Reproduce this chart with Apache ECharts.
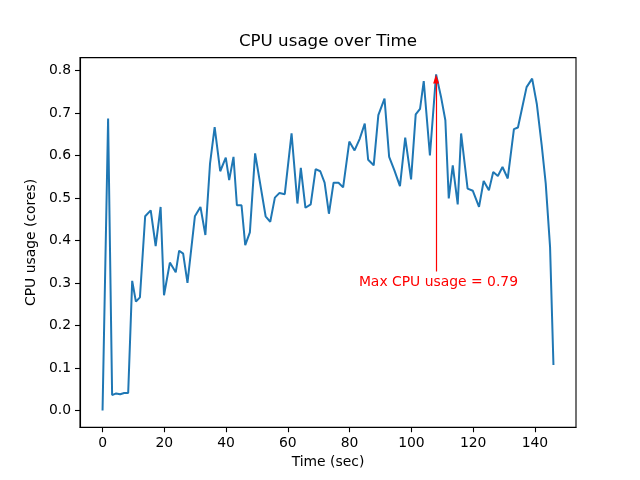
<!DOCTYPE html>
<html>
<head>
<meta charset="utf-8">
<script src="https://cdn.jsdelivr.net/npm/echarts@6/dist/echarts.min.js"></script>
<style>html,body{margin:0;padding:0;background:#fff}#c{width:640px;height:480px}</style>
</head>
<body>
<div id="c"></div>
<script>
const times = [0, 1.8, 3.1, 4.4, 5.7, 7.0, 8.3, 9.6, 10.8, 12.1, 13.8, 15.6, 17.2, 18.8, 19.9, 21.8, 23.7, 24.8, 26.1, 27.5,
  29.9, 31.7, 33.3, 34.8, 36.3, 38.1, 39.9, 41.0, 42.4, 43.5, 45.0, 46.2, 47.7, 49.4, 52.8, 54.3, 55.8, 57.3, 59.0, 61.2,
  63.1, 64.2, 65.7, 67.4, 69.0, 70.5, 71.9, 73.3, 74.8, 76.4, 77.9, 79.9, 81.6, 83.3, 84.9, 86.0, 87.8, 89.3, 91.3, 92.8,
  94.5, 96.3, 98.0, 99.9, 101.4, 102.8, 104.0, 106.0, 108.0, 109.6, 111.0, 112.1, 113.4, 115.0, 116.1, 118.2, 119.9, 121.9, 123.4, 125.1,
  126.5, 128.0, 129.5, 131.2, 133.2, 134.5, 135.8, 137.3, 139.1, 140.6, 142.2, 143.5, 144.9, 146.0];
const cpu = [0.000, 0.687, 0.036, 0.040, 0.038, 0.041, 0.041, 0.305, 0.256, 0.266, 0.457, 0.471, 0.387, 0.479, 0.271, 0.348, 0.325, 0.376, 0.369, 0.300,
  0.457, 0.479, 0.413, 0.581, 0.667, 0.563, 0.595, 0.542, 0.597, 0.483, 0.483, 0.389, 0.419, 0.605, 0.457, 0.444, 0.501, 0.512, 0.509, 0.652,
  0.487, 0.571, 0.477, 0.485, 0.568, 0.563, 0.536, 0.463, 0.536, 0.536, 0.525, 0.633, 0.612, 0.640, 0.675, 0.590, 0.577, 0.695, 0.734, 0.597,
  0.565, 0.528, 0.642, 0.544, 0.697, 0.710, 0.775, 0.600, 0.791, 0.738, 0.683, 0.499, 0.577, 0.485, 0.652, 0.522, 0.517, 0.479, 0.540, 0.518,
  0.561, 0.552, 0.573, 0.546, 0.662, 0.666, 0.710, 0.761, 0.781, 0.722, 0.624, 0.534, 0.385, 0.107];
const xTicks = [0, 20, 40, 60, 80, 100, 120, 140];
const yTicks = [0.0, 0.1, 0.2, 0.3, 0.4, 0.5, 0.6, 0.7, 0.8];
const textOffsetX = 25, textOffsetY = 0.5;

let maxI = 0;
for (let i = 1; i < cpu.length; i++) if (cpu[i] > cpu[maxI]) maxI = i;
const maxT = times[maxI], maxV = cpu[maxI];
const maxLabel = 'Max CPU usage = ' + maxV.toFixed(2);

const xMin = times[0], xMax = times[times.length - 1];
const xPad = (xMax - xMin) * 0.05;
const yPad = (maxV - 0) * 0.05;
const FONT = 'DejaVu Sans';

const chart = echarts.init(document.getElementById('c'), null, {renderer: 'canvas'});
chart.setOption({
  animation: false,
  backgroundColor: '#fff',
  title: {
    text: 'CPU usage over Time', left: 328, top: 33, textAlign: 'center', padding: 0,
    textStyle: {fontFamily: FONT, fontSize: 16.7, fontWeight: 'normal', color: '#000'}
  },
  grid: {left: 80, right: 64, top: 57.6, bottom: 52.8, show: true, borderColor: '#000', borderWidth: 1.1, backgroundColor: 'transparent'},
  xAxis: {
    type: 'value', min: xMin - xPad, max: xMax + xPad,
    name: 'Time (sec)', nameLocation: 'middle', nameGap: 27,
    nameTextStyle: {fontFamily: FONT, fontSize: 13.9, color: '#000'},
    axisLine: {show: true, onZero: false, lineStyle: {color: '#000', width: 1.1}},
    axisTick: {show: true, length: 5, lineStyle: {color: '#000', width: 1.1}, customValues: xTicks},
    axisLabel: {margin: 9, fontFamily: FONT, fontSize: 13.9, color: '#000', customValues: xTicks, formatter: v => String(v)},
    splitLine: {show: false}
  },
  yAxis: {
    type: 'value', min: 0 - yPad, max: maxV + yPad,
    name: 'CPU usage (cores)', nameLocation: 'middle', nameGap: 38, nameRotate: 90,
    nameTextStyle: {fontFamily: FONT, fontSize: 13.9, color: '#000'},
    axisLine: {show: true, onZero: false, lineStyle: {color: '#000', width: 1.1}},
    axisTick: {show: true, length: 5, lineStyle: {color: '#000', width: 1.1}, customValues: yTicks},
    axisLabel: {margin: 9, fontFamily: FONT, fontSize: 13.9, color: '#000', customValues: yTicks, formatter: v => v.toFixed(1)},
    splitLine: {show: false}
  },
  series: [{
    type: 'line',
    data: times.map((t, i) => [t, cpu[i]]),
    showSymbol: false, symbol: 'none',
    lineStyle: {color: '#1f77b4', width: 2},
    z: 2,
    markLine: {
      silent: true, animation: false,
      symbol: ['none', 'triangle'], symbolSize: [6, 9],
      lineStyle: {color: '#ff0000', width: 1.2, type: 'solid'},
      label: {show: false},
      data: [[{coord: [maxT, maxV - textOffsetY + 0.036]}, {coord: [maxT, maxV - 0.011]}]]
    },
    markPoint: {
      silent: true, animation: false,
      symbol: 'circle', symbolSize: 0,
      label: {show: true, position: 'inside', align: 'left', verticalAlign: 'bottom',
        formatter: maxLabel, color: '#ff0000', fontFamily: FONT, fontSize: 13.9, offset: [0, 3]},
      data: [{coord: [maxT - textOffsetX, maxV - textOffsetY]}]
    }
  }]
});
</script>
</body>
</html>
